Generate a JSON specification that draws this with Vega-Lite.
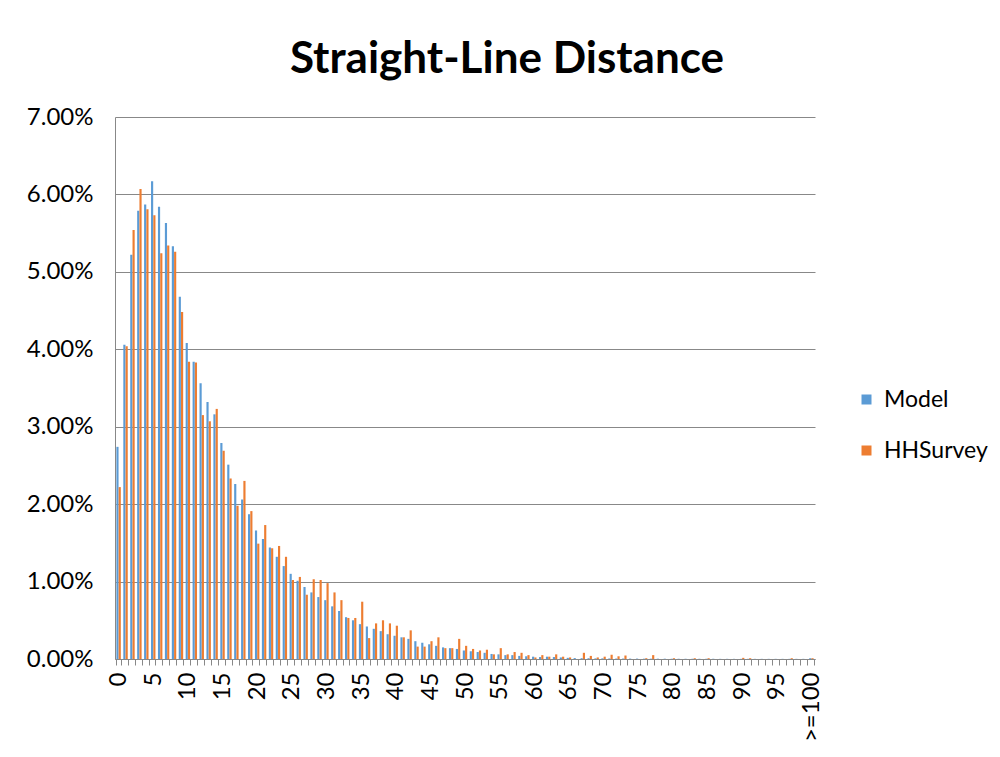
{
  "$schema": "https://vega.github.io/schema/vega-lite/v6.json",
  "width": 700,
  "height": 542,
  "autosize": {"type": "none"},
  "padding": {"left": 115, "top": 117, "right": 185, "bottom": 98},
  "background": "white",
  "config": {"font": "Lato", "view": {"stroke": null}},
  "title": {"text": "Straight-Line Distance", "fontSize": 44, "fontWeight": "bold", "font": "Lato", "color": "#000000", "anchor": "middle", "dx": 42, "offset": 23, "frame": "group"},
  "data": {"values": [
    {"d":0,"Model":2.74,"HHSurvey":2.22},{"d":1,"Model":4.06,"HHSurvey":4.04},{"d":2,"Model":5.22,"HHSurvey":5.54},{"d":3,"Model":5.79,"HHSurvey":6.07},{"d":4,"Model":5.87,"HHSurvey":5.81},{"d":5,"Model":6.17,"HHSurvey":5.73},{"d":6,"Model":5.84,"HHSurvey":5.24},{"d":7,"Model":5.63,"HHSurvey":5.34},{"d":8,"Model":5.33,"HHSurvey":5.26},{"d":9,"Model":4.68,"HHSurvey":4.48},
    {"d":10,"Model":4.08,"HHSurvey":3.84},{"d":11,"Model":3.84,"HHSurvey":3.83},{"d":12,"Model":3.56,"HHSurvey":3.15},{"d":13,"Model":3.32,"HHSurvey":3.07},{"d":14,"Model":3.16,"HHSurvey":3.23},{"d":15,"Model":2.79,"HHSurvey":2.69},{"d":16,"Model":2.51,"HHSurvey":2.33},{"d":17,"Model":2.26,"HHSurvey":1.98},{"d":18,"Model":2.06,"HHSurvey":2.3},{"d":19,"Model":1.87,"HHSurvey":1.91},
    {"d":20,"Model":1.66,"HHSurvey":1.49},{"d":21,"Model":1.55,"HHSurvey":1.73},{"d":22,"Model":1.44,"HHSurvey":1.43},{"d":23,"Model":1.32,"HHSurvey":1.46},{"d":24,"Model":1.2,"HHSurvey":1.32},{"d":25,"Model":1.1,"HHSurvey":1.02},{"d":26,"Model":1.01,"HHSurvey":1.06},{"d":27,"Model":0.93,"HHSurvey":0.83},{"d":28,"Model":0.86,"HHSurvey":1.03},{"d":29,"Model":0.8,"HHSurvey":1.02},
    {"d":30,"Model":0.76,"HHSurvey":0.98},{"d":31,"Model":0.68,"HHSurvey":0.86},{"d":32,"Model":0.62,"HHSurvey":0.76},{"d":33,"Model":0.54,"HHSurvey":0.53},{"d":34,"Model":0.5,"HHSurvey":0.53},{"d":35,"Model":0.45,"HHSurvey":0.74},{"d":36,"Model":0.42,"HHSurvey":0.27},{"d":37,"Model":0.39,"HHSurvey":0.46},{"d":38,"Model":0.36,"HHSurvey":0.5},{"d":39,"Model":0.32,"HHSurvey":0.46},
    {"d":40,"Model":0.3,"HHSurvey":0.43},{"d":41,"Model":0.28,"HHSurvey":0.28},{"d":42,"Model":0.26,"HHSurvey":0.37},{"d":43,"Model":0.23,"HHSurvey":0.16},{"d":44,"Model":0.21,"HHSurvey":0.16},{"d":45,"Model":0.19,"HHSurvey":0.23},{"d":46,"Model":0.17,"HHSurvey":0.28},{"d":47,"Model":0.15,"HHSurvey":0.14},{"d":48,"Model":0.14,"HHSurvey":0.14},{"d":49,"Model":0.13,"HHSurvey":0.26},
    {"d":50,"Model":0.11,"HHSurvey":0.17},{"d":51,"Model":0.1,"HHSurvey":0.13},{"d":52,"Model":0.09,"HHSurvey":0.11},{"d":53,"Model":0.08,"HHSurvey":0.12},{"d":54,"Model":0.065,"HHSurvey":0.06},{"d":55,"Model":0.06,"HHSurvey":0.14},{"d":56,"Model":0.05,"HHSurvey":0.06},{"d":57,"Model":0.05,"HHSurvey":0.09},{"d":58,"Model":0.04,"HHSurvey":0.08},{"d":59,"Model":0.035,"HHSurvey":0.05},
    {"d":60,"Model":0.03,"HHSurvey":0.02},{"d":61,"Model":0.025,"HHSurvey":0.05},{"d":62,"Model":0.03,"HHSurvey":0.03},{"d":63,"Model":0.025,"HHSurvey":0.06},{"d":64,"Model":0.02,"HHSurvey":0.03},{"d":65,"Model":0.015,"HHSurvey":0.02},{"d":66,"Model":0.012,"HHSurvey":0.0},{"d":67,"Model":0.01,"HHSurvey":0.08},{"d":68,"Model":0.01,"HHSurvey":0.04},{"d":69,"Model":0.008,"HHSurvey":0.02},
    {"d":70,"Model":0.008,"HHSurvey":0.03},{"d":71,"Model":0.007,"HHSurvey":0.055},{"d":72,"Model":0.006,"HHSurvey":0.035},{"d":73,"Model":0.006,"HHSurvey":0.045},{"d":74,"Model":0.005,"HHSurvey":0.0},{"d":75,"Model":0.005,"HHSurvey":0.0},{"d":76,"Model":0.004,"HHSurvey":0.01},{"d":77,"Model":0.004,"HHSurvey":0.05},{"d":78,"Model":0.004,"HHSurvey":0.0},{"d":79,"Model":0.004,"HHSurvey":0.0},
    {"d":80,"Model":0.003,"HHSurvey":0.01},{"d":81,"Model":0.003,"HHSurvey":0.0},{"d":82,"Model":0.003,"HHSurvey":0.0},{"d":83,"Model":0.003,"HHSurvey":0.01},{"d":84,"Model":0.003,"HHSurvey":0.0},{"d":85,"Model":0.003,"HHSurvey":0.01},{"d":86,"Model":0.003,"HHSurvey":0.0},{"d":87,"Model":0.002,"HHSurvey":0.0},{"d":88,"Model":0.002,"HHSurvey":0.0},{"d":89,"Model":0.002,"HHSurvey":0.0},
    {"d":90,"Model":0.002,"HHSurvey":0.015},{"d":91,"Model":0.002,"HHSurvey":0.01},{"d":92,"Model":0.002,"HHSurvey":0.0},{"d":93,"Model":0.002,"HHSurvey":0.0},{"d":94,"Model":0.002,"HHSurvey":0.0},{"d":95,"Model":0.002,"HHSurvey":0.0},{"d":96,"Model":0.002,"HHSurvey":0.0},{"d":97,"Model":0.002,"HHSurvey":0.01},{"d":98,"Model":0.002,"HHSurvey":0.0},{"d":99,"Model":0.002,"HHSurvey":0.0},
    {"d":100,"Model":0.01,"HHSurvey":0.01}
  ]},
  "transform": [
    {"fold": ["Model", "HHSurvey"], "as": ["series", "pct"]}
  ],
  "mark": {"type": "bar"},
  "encoding": {
    "x": {
      "field": "d", "type": "ordinal",
      "scale": {"paddingInner": 0.36, "paddingOuter": 0.2},
      "axis": {
        "title": null,
        "labelAngle": -90,
        "labelFontSize": 24,
        "labelColor": "#000000",
        "labelPadding": 7,
        "labelFont": "Lato",
        "tickColor": "#888888",
        "tickSize": 6,
        "tickBand": "extent",
        "domainColor": "#888888",
        "labelOverlap": false,
        "labelExpr": "datum.value == 100 ? '>=100' : (datum.value % 5 == 0 ? datum.label : '')"
      }
    },
    "xOffset": {"field": "series", "type": "nominal", "scale": {"domain": ["Model", "HHSurvey"], "paddingInner": 0.05}},
    "y": {
      "field": "pct", "type": "quantitative",
      "scale": {"domain": [0, 7], "nice": false},
      "axis": {
        "title": null,
        "values": [0, 1, 2, 3, 4, 5, 6, 7],
        "labelExpr": "format(datum.value, '.2f') + '%'",
        "labelFontSize": 24,
        "labelColor": "#000000",
        "labelFont": "Lato",
        "ticks": false,
        "labelPadding": 22,
        "domainColor": "#888888",
        "gridColor": "#888888",
        "gridWidth": 1,
        "grid": true
      }
    },
    "color": {
      "field": "series", "type": "nominal",
      "scale": {"domain": ["Model", "HHSurvey"], "range": ["#5B9BD5", "#ED7D31"]},
      "legend": {
        "title": null,
        "orient": "none",
        "legendX": 740,
        "legendY": 271,
        "symbolType": "square",
        "symbolSize": 100,
        "symbolStrokeWidth": 0,
        "labelFontSize": 23,
        "labelFont": "Lato",
        "labelColor": "#000000",
        "rowPadding": 27,
        "labelOffset": 6
      }
    }
  }
}
